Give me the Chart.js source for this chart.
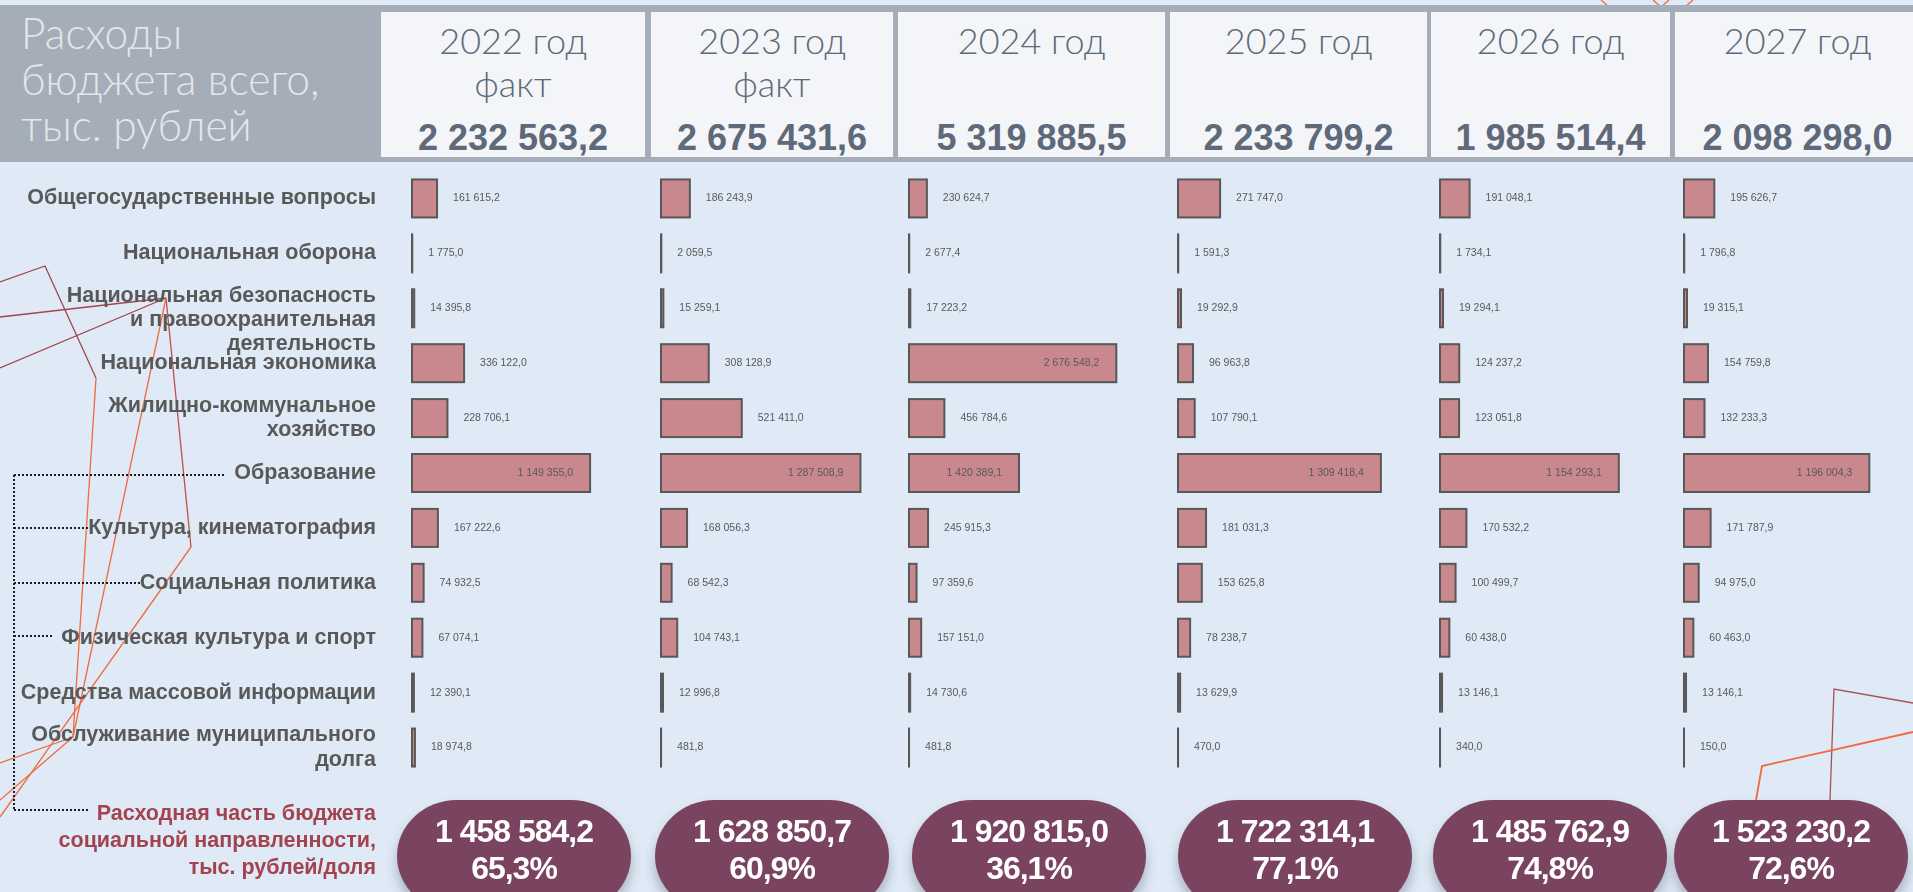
<!DOCTYPE html>
<html lang="ru">
<head>
<meta charset="utf-8">
<title>Расходы бюджета</title>
<script src="https://cdn.jsdelivr.net/npm/chart.js@4.4.1/dist/chart.umd.min.js"></script>
<style>
  html, body { margin: 0; padding: 0; }
  body {
    width: 1913px; height: 892px; overflow: hidden; position: relative;
    background: #dfeaf6;
    font-family: "Liberation Sans", Arial, sans-serif;
  }
  #deco { position: absolute; left: 0; top: 0; z-index: 1; }
  #spend { position: absolute; left: 0; top: 0; z-index: 2; }
  #band {
    position: absolute; left: 0; top: 5px; width: 1913px; height: 157px;
    background: #a5aeb8; z-index: 3;
  }
  #bandTitle {
    position: absolute; left: 21px; top: 5px;
    font: 300 42.5px/46px Lato, "Open Sans", sans-serif;
    color: #e3e7eb; white-space: nowrap;
  }
  .ybox {
    position: absolute; top: 7px; height: 145px;
    background: #f3f5f8; color: #5e6979; text-align: center;
  }
  .ybox .yr, .ybox .note {
    position: absolute; left: 0; right: 0;
    font: 300 36px/36px Lato, "Open Sans", sans-serif;
  }
  .ybox .yr { top: 10px; }
  .ybox .note { top: 53px; }
  .ybox .tot {
    position: absolute; left: 0; right: 0; top: 108px;
    font: bold 36px/36px "Liberation Sans", Arial, sans-serif;
    white-space: nowrap;
  }
  .pill {
    position: absolute; top: 800px; width: 234px; height: 112px;
    border-radius: 60px / 56px; background: #7a4460;
    box-shadow: 0 8px 12px rgba(60, 70, 90, 0.35);
    color: #fff; text-align: center; z-index: 4;
    font: bold 32px/37px "Liberation Sans", Arial, sans-serif;
    letter-spacing: -1px; padding-top: 13px; box-sizing: border-box;
  }
  #socialLabel {
    position: absolute; left: 0; top: 800px; width: 376px; text-align: right;
    font: bold 21.5px/27px "Liberation Sans", Arial, sans-serif;
    color: #a3434f; z-index: 4;
  }
</style>
</head>
<body>

<svg id="deco" width="1913" height="892">
  <g fill="none" stroke-width="1.3">
    <!-- left ornament -->
    <polyline points="0,282 45,266 96,378" stroke="#a3444e"/>
    <line x1="0" y1="317" x2="166" y2="298" stroke="#a3444e"/>
    <line x1="0" y1="368" x2="166" y2="298" stroke="#a3444e"/>
    <line x1="166" y1="298" x2="191" y2="547" stroke="#c0504a"/>
    <line x1="96" y1="378" x2="73" y2="737" stroke="#f06a3e"/>
    <line x1="166" y1="298" x2="73" y2="737" stroke="#f06a3e"/>
    <line x1="191" y1="547" x2="0" y2="817" stroke="#f06a3e"/>
    <line x1="73" y1="737" x2="0" y2="763" stroke="#f06a3e"/>
    <line x1="73" y1="737" x2="0" y2="800" stroke="#f06a3e"/>
    <!-- right ornament -->
    <polyline points="1830,800 1834,689 1913,703" stroke="#a4505a"/>
    <polyline points="1756,800 1762,766 1913,732" stroke="#f06a3e" stroke-width="1.8"/>
    <!-- top ornament -->
    <line x1="1601" y1="0" x2="1609" y2="7" stroke="#f06a3e"/>
    <polyline points="1653,0 1661,7 1669,0" stroke="#f06a3e"/>
    <line x1="1693" y1="0" x2="1685" y2="7" stroke="#f06a3e"/>
  </g>
  <!-- connectors of the social rows -->
  <g fill="none" stroke="#1e1e1e" stroke-width="2" stroke-dasharray="2 2">
    <line x1="14" y1="475" x2="14" y2="810"/>
    <line x1="14" y1="475" x2="226" y2="475"/>
    <line x1="14" y1="528" x2="88" y2="528"/>
    <line x1="14" y1="583" x2="141" y2="583"/>
    <line x1="14" y1="636" x2="52" y2="636"/>
    <line x1="14" y1="810" x2="88" y2="810"/>
  </g>
</svg>

<canvas id="spend" width="1913" height="892"></canvas>

<div id="band">
  <div id="bandTitle">Расходы<br>бюджета всего,<br>тыс. рублей</div>
</div>

<div id="socialLabel">Расходная часть бюджета<br>социальной направленности,<br>тыс. рублей/доля</div>

<script>
const categories = [
  'Общегосударственные вопросы',
  'Национальная оборона',
  ['Национальная безопасность', 'и правоохранительная', 'деятельность'],
  'Национальная экономика',
  ['Жилищно-коммунальное', 'хозяйство'],
  'Образование',
  'Культура, кинематография',
  'Социальная политика',
  'Физическая культура и спорт',
  'Средства массовой информации',
  ['Обслуживание муниципального', 'долга']
];

const years = ['2022 год', '2023 год', '2024 год', '2025 год', '2026 год', '2027 год'];
const yearNotes = ['факт', 'факт', '', '', '', ''];

// расходы всего, тыс. рублей
const totals = [2232563.2, 2675431.6, 5319885.5, 2233799.2, 1985514.4, 2098298.0];

// расходы по разделам, тыс. рублей
const spend2022 = [161615.2, 1775.0, 14395.8, 336122.0, 228706.1, 1149355.0, 167222.6, 74932.5, 67074.1, 12390.1, 18974.8];
const spend2023 = [186243.9, 2059.5, 15259.1, 308128.9, 521411.0, 1287508.9, 168056.3, 68542.3, 104743.1, 12996.8, 481.8];
const spend2024 = [230624.7, 2677.4, 17223.2, 2676548.2, 456784.6, 1420389.1, 245915.3, 97359.6, 157151.0, 14730.6, 481.8];
const spend2025 = [271747.0, 1591.3, 19292.9, 96963.8, 107790.1, 1309418.4, 181031.3, 153625.8, 78238.7, 13629.9, 470.0];
const spend2026 = [191048.1, 1734.1, 19294.1, 124237.2, 123051.8, 1154293.1, 170532.2, 100499.7, 60438.0, 13146.1, 340.0];
const spend2027 = [195626.7, 1796.8, 19315.1, 154759.8, 132233.3, 1196004.3, 171787.9, 94975.0, 60463.0, 13146.1, 150.0];

// социальная направленность: сумма и доля, %
const socialSum = [1458584.2, 1628850.7, 1920815.0, 1722314.1, 1485762.9, 1523230.2];
const socialShare = [65.3, 60.9, 36.1, 77.1, 74.8, 72.6];

const spendByYear = [spend2022, spend2023, spend2024, spend2025, spend2026, spend2027];

// header boxes and pills, px
const boxLeft = [381, 651, 898, 1170, 1431, 1675];
const boxWidth = [264, 242, 267, 257, 239, 245];
const pillLeft = [397, 655, 912, 1178, 1433, 1674];

// one value axis per year, laid side by side
const axisWeight = [249, 248, 269, 262, 244, 229];
const axisMax = [1607000, 1601000, 3473000, 1691000, 1575000, 1478000];

function fmtNum(v, digits = 1) {
  const [i, d] = v.toFixed(digits).split('.');
  return i.replace(/\B(?=(\d{3})+(?!\d))/g, '\u00a0') + ',' + d;
}

const band = document.getElementById('band');
years.forEach((y, k) => {
  const box = document.createElement('div');
  box.className = 'ybox';
  box.style.left = boxLeft[k] + 'px';
  box.style.width = boxWidth[k] + 'px';
  box.innerHTML = `<div class="yr">${y}</div><div class="note">${yearNotes[k]}</div>` +
    `<div class="tot">${fmtNum(totals[k])}</div>`;
  band.appendChild(box);
});

socialSum.forEach((s, k) => {
  const pill = document.createElement('div');
  pill.className = 'pill';
  pill.style.left = pillLeft[k] + 'px';
  pill.innerHTML = `${fmtNum(s)}<br>${fmtNum(socialShare[k])}%`;
  document.body.appendChild(pill);
});

// outline each bar with a centred stroke and put its value beside it
const barDecor = {
  id: 'barDecor',
  afterDatasetsDraw(chart) {
    const ctx = chart.ctx;
    ctx.save();
    chart.data.datasets.forEach((ds, di) => {
      const meta = chart.getDatasetMeta(di);
      meta.data.forEach((bar, i) => {
        const { x, y, base, height } = bar.getProps(['x', 'y', 'base', 'height'], true);
        ctx.strokeStyle = '#585858';
        ctx.lineWidth = 2;
        ctx.strokeRect(base, y - height / 2, x - base, height);

        ctx.font = '10.5px "Liberation Sans", Arial, sans-serif';
        ctx.fillStyle = '#595959';
        ctx.textBaseline = 'middle';
        const text = fmtNum(ds.data[i]);
        if (x - base > 100) {
          ctx.textAlign = 'right';
          ctx.fillText(text, x - 17, y);
        } else {
          ctx.textAlign = 'left';
          ctx.fillText(text, x + 16, y);
        }
      });
    });
    ctx.restore();
  }
};

const scales = {
  y: {
    type: 'category',
    position: 'left',
    grid: { display: false, drawTicks: false },
    border: { display: false },
    ticks: {
      autoSkip: false,
      padding: 36,
      color: '#595959',
      font: { family: '"Liberation Sans", Arial, sans-serif', size: 21.5, weight: 'bold', lineHeight: 1.12 },
      // three-line labels sit a little lower than their row
      callback(value) {
        const lab = this.getLabelForValue(value);
        return Array.isArray(lab) && lab.length > 2 ? ['', ...lab] : lab;
      }
    },
    afterFit(scale) { scale.width = 412; }
  }
};
spendByYear.forEach((_, k) => {
  scales['x' + k] = {
    type: 'linear',
    position: 'bottom',
    stack: 'years',
    stackWeight: axisWeight[k],
    min: 0,
    max: axisMax[k],
    grid: { display: false, drawTicks: false },
    border: { display: false },
    ticks: { display: false }
  };
});

new Chart(document.getElementById('spend'), {
  type: 'bar',
  data: {
    labels: categories,
    datasets: spendByYear.map((vals, k) => ({
      label: years[k],
      data: vals,
      xAxisID: 'x' + k,
      yAxisID: 'y',
      grouped: false,
      backgroundColor: '#c9888d',
      borderWidth: 0,
      categoryPercentage: 1,
      barPercentage: 0.692
    }))
  },
  options: {
    indexAxis: 'y',
    responsive: false,
    animation: false,
    layout: { padding: { left: 0, right: 0, top: 171, bottom: 117 } },
    plugins: { legend: { display: false }, tooltip: { enabled: false } },
    scales
  },
  plugins: [barDecor]
});
</script>
</body>
</html>
